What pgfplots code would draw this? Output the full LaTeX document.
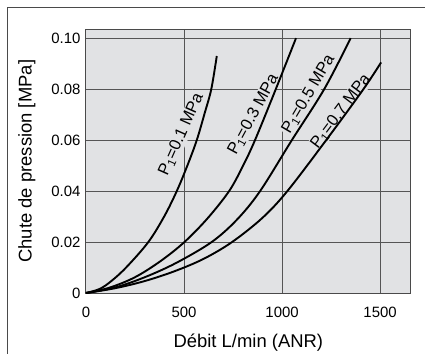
\documentclass[border=0pt]{standalone}
\usepackage{fontspec}
\setmainfont{Liberation Sans}
\usepackage{pgfplots}
\pgfplotsset{compat=1.18}
\definecolor{bgc}{HTML}{E1E2E4}
\definecolor{gridc}{HTML}{555555}
\definecolor{framec}{HTML}{4A4A4A}
\begin{document}
\begin{tikzpicture}[x=1bp,y=1bp]
\useasboundingbox (-86,-61) rectangle (339,293);
\draw[framec,line width=1bp] (-78,-61) -- (-78,285.5) -- (339,285.5);
\begin{axis}[
  at={(0,0)}, anchor=south west,
  scale only axis, width=324.7bp, height=263.5bp,
  xmin=0, xmax=1656, ymin=0, ymax=0.1034,
  xtick={0,500,1000,1500},
  ytick={0,0.02,0.04,0.06,0.08,0.10},
  yticklabels={0,0.02,0.04,0.06,0.08,0.10},
  xticklabels={0,500,1000,1500},
  major tick length=0pt,
  grid=major,
  grid style={gridc, line width=1bp},
  axis line style={framec, line width=1bp},
  axis background/.style={fill=bgc},
  tick label style={font=\fontsize{15}{15}\selectfont, text=black},
  xticklabel style={yshift=-11bp},
  yticklabel style={xshift=-2bp},
  /pgf/number format/assume math mode=true,
  xlabel={Débit L/min (ANR)},
  ylabel={Chute de pression [MPa]},
  label style={font=\fontsize{18.5}{18.5}\selectfont},
  xlabel style={at={(axis description cs:0.5,-0.19)}, anchor=center},
  ylabel style={at={(axis description cs:-0.182,0.5)}, anchor=center},
]
\node[rotate=66, fill=bgc, inner sep=1bp, font=\fontsize{16.5}{16.5}\selectfont] at (axis cs:486,0.0622) {P\textsubscript{1}=0.1 MPa};
\node[rotate=61.5, fill=bgc, inner sep=1bp, font=\fontsize{16.5}{16.5}\selectfont] at (axis cs:854,0.0700) {P\textsubscript{1}=0.3 MPa};
\node[rotate=59.5, fill=bgc, inner sep=1bp, font=\fontsize{16.5}{16.5}\selectfont] at (axis cs:1135,0.0780) {P\textsubscript{1}=0.5 MPa};
\node[rotate=53, fill=bgc, inner sep=1bp, font=\fontsize{16.5}{16.5}\selectfont] at (axis cs:1300,0.0712) {P\textsubscript{1}=0.7 MPa};
% P1 = 0.1 MPa
\addplot[black, line width=1.9bp, smooth, tension=0.55] coordinates {
(0,0) (70,0.0016) (131,0.0048) (207,0.0102) (318,0.02) (400,0.0302) (463,0.04) (517,0.05) (565,0.06) (605,0.0705) (639,0.08) (667,0.093)};
% P1 = 0.3 MPa
\addplot[black, line width=1.9bp, smooth, tension=0.55] coordinates {
(0,0) (120,0.0021) (250,0.0062) (380,0.0125) (502,0.02) (620,0.0293) (730,0.04) (800,0.0498) (862,0.06) (968,0.08) (1071,0.10)};
% P1 = 0.5 MPa
\addplot[black, line width=1.9bp, smooth, tension=0.55] coordinates {
(0,0) (150,0.0022) (300,0.0062) (460,0.0118) (641,0.02) (770,0.0288) (888,0.04) (1050,0.06) (1215,0.08) (1350,0.10)};
% P1 = 0.7 MPa
\addplot[black, line width=1.9bp, smooth, tension=0.55] coordinates {
(0,0) (150,0.0019) (300,0.0047) (450,0.0085) (600,0.0134) (745,0.02) (900,0.0295) (1027,0.04) (1225,0.06) (1415,0.08) (1505,0.0905)};
\end{axis}
\end{tikzpicture}
\end{document}
